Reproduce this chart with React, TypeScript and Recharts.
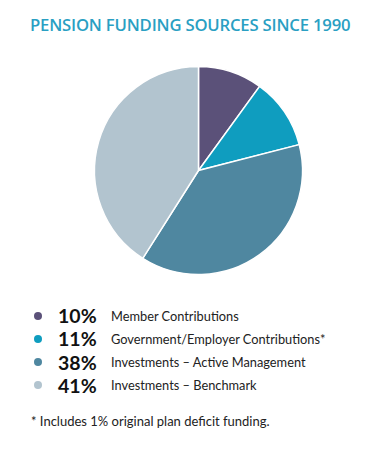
import React from 'react'
import { PieChart, Pie, Cell } from 'recharts'

const categories = [
  'Member Contributions',
  'Government/Employer Contributions*',
  'Investments – Active Management',
  'Investments – Benchmark',
]
const shares = [10, 11, 38, 41]
const colors = ['#5b5179', '#0f9dbf', '#4f87a0', '#b2c4cf']

const TITLE = 'PENSION FUNDING SOURCES SINCE 1990'
const FOOTNOTE = '* Includes 1% original plan deficit funding.'

const data = categories.map((name, i) => ({ name, value: shares[i] }))

export default function App() {
  return (
    <div
      style={{
        position: 'absolute',
        left: 0,
        top: 0,
        width: 365,
        height: 449,
        background: '#fff',
        fontFamily: 'Lato, sans-serif',
      }}
    >
      <div
        style={{
          position: 'absolute',
          left: 30,
          top: 13,
          color: '#2a9fc3',
          fontFamily: '"Open Sans", sans-serif',
          fontWeight: 600,
          fontSize: 16.7,
          letterSpacing: -0.2,
          whiteSpace: 'nowrap',
        }}
      >
        {TITLE}
      </div>

      <div style={{ position: 'absolute', left: 0, top: 0 }}>
        <PieChart width={365} height={290} margin={{ top: 0, right: 0, bottom: 0, left: 0 }}>
          <Pie
            data={data}
            dataKey="value"
            nameKey="name"
            cx={198.5}
            cy={170.5}
            outerRadius={104}
            startAngle={90}
            endAngle={-270}
            stroke="#fff"
            strokeWidth={1.5}
            isAnimationActive={false}
          >
            {data.map((d, i) => (
              <Cell key={d.name} fill={colors[i]} />
            ))}
          </Pie>
        </PieChart>
      </div>

      {data.map((d, i) => (
        <div
          key={d.name}
          style={{
            position: 'absolute',
            left: 0,
            top: 304 + i * 23.3,
            height: 23,
            display: 'flex',
            alignItems: 'center',
          }}
        >
          <span
            style={{
              position: 'absolute',
              left: 34,
              width: 8,
              height: 8,
              borderRadius: 4,
              background: colors[i],
            }}
          />
          <span
            style={{
              position: 'absolute',
              left: 58,
              fontWeight: 700,
              fontSize: 19.5,
              color: '#111',
            }}
          >
            {d.value}%
          </span>
          <span
            style={{
              position: 'absolute',
              left: 111,
              fontSize: 12.8,
              color: '#222',
              whiteSpace: 'nowrap',
            }}
          >
            {d.name}
          </span>
        </div>
      ))}

      <div
        style={{
          position: 'absolute',
          left: 31,
          top: 413,
          fontSize: 13,
          color: '#222',
          whiteSpace: 'nowrap',
        }}
      >
        {FOOTNOTE}
      </div>
    </div>
  )
}
